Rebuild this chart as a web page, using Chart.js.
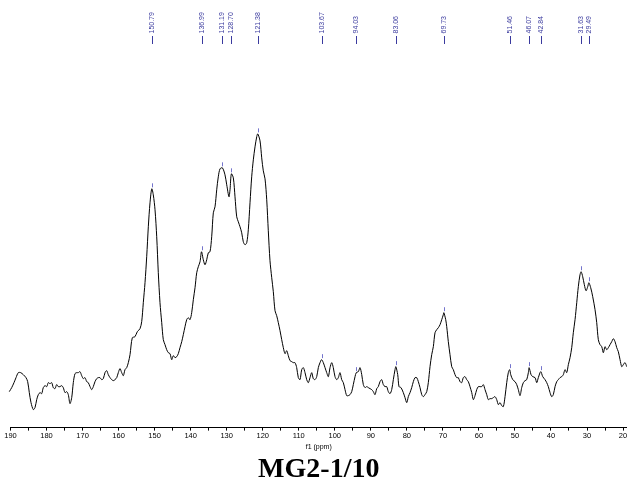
<!DOCTYPE html>
<html>
<head>
<meta charset="utf-8">
<style>
  html, body { margin: 0; padding: 0; background: #ffffff; overflow: hidden; }
  #wrap { position: relative; width: 627px; height: 488px; }
</style>
<script src="https://cdn.jsdelivr.net/npm/chart.js@4.4.0/dist/chart.umd.min.js"></script>
</head>
<body>
<div id="wrap"><canvas id="spectrum" width="627" height="488"></canvas></div>
<script>
// 13C spectrum of MG2-1/10: chemical shift (ppm) and intensity (arbitrary units)
const shiftPpm = [
  190.33,189.67,189.03,188.47,187.83,187.17,186.45,185.70,185.23,184.78,184.31,183.67,183.20,182.73,182.28,181.81,181.34,180.90,180.42,179.95,
  179.51,179.04,178.57,178.12,177.65,177.18,176.73,176.26,175.79,175.35,174.87,174.40,173.96,173.49,173.01,172.57,172.10,171.63,171.18,170.71,
  170.24,169.79,169.32,168.85,168.41,167.93,167.46,167.02,166.55,166.08,165.63,165.16,164.69,164.24,163.77,163.30,162.86,162.38,161.91,161.47,
  161.00,160.52,160.08,159.61,159.14,158.69,158.22,157.75,157.30,156.83,156.19,155.45,154.81,154.06,153.59,153.14,152.67,152.20,151.75,151.28,
  150.79,150.37,149.89,149.42,148.98,148.51,148.03,147.59,147.12,146.65,146.20,145.73,145.26,144.82,144.34,143.87,143.43,142.96,142.48,142.04,
  141.57,141.10,140.65,140.18,139.71,139.26,138.79,138.32,137.88,137.40,136.99,136.49,136.02,135.54,135.10,134.63,134.16,133.71,133.24,132.77,
  132.33,131.85,131.19,130.47,129.99,129.36,129.08,128.70,128.16,127.69,127.22,126.77,126.30,125.83,125.39,124.91,124.44,124.00,123.53,123.06,
  122.61,122.14,121.67,121.38,120.75,120.28,119.84,119.36,118.89,118.45,117.98,117.50,117.06,116.59,116.12,115.67,115.20,114.73,114.28,113.81,
  113.34,112.90,112.42,111.95,111.51,111.04,110.57,110.12,109.65,109.18,108.73,108.26,107.79,107.35,106.87,106.40,105.96,105.49,105.01,104.57,
  104.10,103.67,103.18,102.71,102.24,101.79,101.32,100.85,100.41,99.94,99.46,99.02,98.55,98.08,97.63,97.16,96.69,96.24,95.77,95.30,
  94.86,94.38,94.03,93.47,93.00,92.52,92.08,91.61,91.14,90.69,90.22,89.75,89.31,88.83,88.36,87.92,87.45,86.97,86.53,86.06,
  85.59,85.14,84.67,84.20,83.75,83.28,83.06,82.53,82.17,81.62,80.98,80.51,80.03,79.59,79.12,78.65,78.20,77.73,77.26,76.81,
  76.34,75.87,75.43,74.96,74.48,74.04,73.57,73.10,72.65,72.18,71.71,71.26,70.79,70.32,69.88,69.73,69.21,68.93,68.49,68.02,
  67.55,67.10,66.63,66.16,65.71,65.24,64.77,64.33,63.85,63.38,62.94,62.47,61.99,61.55,61.08,60.61,60.16,59.69,59.22,58.77,
  58.30,57.83,57.39,56.91,56.44,56.00,55.53,55.06,54.61,54.14,53.67,53.22,52.75,52.28,51.84,51.46,51.17,50.61,49.98,49.50,
  49.06,48.59,48.12,47.67,47.20,46.73,46.28,46.07,45.53,45.06,44.42,43.95,43.51,42.84,42.29,41.65,41.18,40.73,40.26,39.79,
  39.35,38.87,38.40,37.96,37.49,37.01,36.57,36.10,35.63,35.18,34.71,34.24,33.80,33.32,32.85,32.41,31.94,31.63,31.19,30.74,
  30.27,29.80,29.49,28.97,28.41,27.77,27.30,26.86,26.38,25.91,25.47,25.00,24.52,24.08,23.61,23.14,22.69,22.22,21.75,21.31,
  20.83,20.36,19.92,19.45,18.97
];
const intensity = [
  36,40,45,50,55,55,53,50,46,35,25,18,20,28,33,35,34,40,42,41,
  45,44,45,40,39,43,41,41,42,40,35,36,33,24,30,45,54,55,55,56,
  52,49,50,46,45,41,38,41,46,49,50,50,48,49,55,57,53,50,48,47,
  48,50,55,59,55,52,58,60,65,73,90,91,96,99,106,125,145,171,201,225,
  239,233,218,191,155,125,105,88,83,78,75,74,68,72,70,71,74,80,86,93,
  101,108,110,108,115,128,140,155,161,166,176,168,163,168,175,176,191,215,221,238,
  251,259,260,253,243,231,238,254,250,231,211,206,201,195,186,183,185,198,225,251,
  268,281,291,294,287,270,257,249,228,197,167,150,136,117,112,105,97,88,80,74,
  77,72,67,66,65,65,60,50,48,58,60,55,48,45,50,55,49,48,51,60,
  65,68,65,60,55,51,60,65,60,51,48,50,55,48,45,38,32,32,33,36,
  43,51,55,56,60,53,43,40,41,40,39,38,36,33,39,41,46,48,43,41,
  41,36,34,38,48,58,61,53,41,40,35,30,25,31,35,40,46,50,50,46,
  40,33,31,33,36,45,61,73,81,95,98,100,103,108,113,115,108,101,86,73,
  61,58,53,50,50,46,45,50,51,48,46,41,35,28,32,38,41,41,41,43,
  38,33,28,29,29,30,31,28,23,25,22,21,31,45,55,58,53,48,46,43,
  38,32,40,45,47,48,55,60,53,51,50,45,50,56,51,48,45,41,35,31,
  33,41,46,48,50,51,53,58,55,63,70,80,95,108,125,141,153,156,151,143,
  137,141,145,140,131,118,105,88,83,81,75,81,78,80,83,86,89,86,80,76,
  68,61,63,65,61
];

// Picked peaks
const peakPpm = [150.79, 136.99, 131.19, 128.70, 121.38, 103.67, 94.03, 83.06, 69.73, 51.46, 46.07, 42.84, 31.63, 29.49];
const peakLabels = ['150.79', '136.99', '131.19', '128.70', '121.38', '103.67', '94.03', '83.06', '69.73', '51.46', '46.07', '42.84', '31.63', '29.49'];

// Axis ticks (major every 10 ppm, minor every 5 ppm)
const axisTicks = [190,185,180,175,170,165,160,155,150,145,140,135,130,125,120,115,110,105,100,95,90,85,80,75,70,65,60,55,50,45,40,35,30,25,20];
const axisTitle = 'f1 (ppm)';
const chartTitle = 'MG2-1/10';

const sansFamily = '"Liberation Sans", Arial, sans-serif';
const serifFamily = '"Liberation Serif", "Times New Roman", serif';
const peakColor = '#3a3a9e';
const markColor = '#7474cc';

const points = shiftPpm.map((p, i) => ({ x: p, y: intensity[i] }));

// Peak labels along the top with their sticks, plus a short mark over each picked peak
const peakPicks = {
  id: 'peakPicks',
  afterDatasetsDraw(chart) {
    const { ctx, scales } = chart;
    const xs = scales.x, ys = scales.y;
    ctx.save();
    ctx.font = '7px ' + sansFamily;
    ctx.lineWidth = 1;
    peakPpm.forEach((p, i) => {
      const px = Math.round(xs.getPixelForValue(p)) + 0.5;
      ctx.fillStyle = peakColor;
      ctx.save();
      ctx.translate(px, 33.5);
      ctx.rotate(-Math.PI / 2);
      ctx.textAlign = 'left';
      ctx.textBaseline = 'middle';
      ctx.fillText(peakLabels[i], 0, 0);
      ctx.restore();
      ctx.strokeStyle = peakColor;
      ctx.beginPath();
      ctx.moveTo(px, 36);
      ctx.lineTo(px, 44);
      ctx.stroke();
      const idx = shiftPpm.indexOf(p);
      if (idx >= 0) {
        const py = ys.getPixelForValue(intensity[idx]);
        ctx.strokeStyle = markColor;
        ctx.beginPath();
        ctx.moveTo(px, py - 5.5);
        ctx.lineTo(px, py - 1.5);
        ctx.stroke();
      }
    });
    ctx.restore();
  }
};

new Chart(document.getElementById('spectrum'), {
  type: 'line',
  data: {
    datasets: [{
      data: points,
      borderColor: '#000000',
      borderWidth: 1,
      pointRadius: 0,
      tension: 0.3,
      fill: false,
      clip: 4
    }]
  },
  options: {
    responsive: false,
    animation: false,
    devicePixelRatio: 1,
    layout: { padding: { left: 10.5, right: 0, top: 0, bottom: 0 } },
    plugins: {
      legend: { display: false },
      tooltip: { enabled: false },
      title: {
        display: true,
        text: chartTitle,
        position: 'bottom',
        fullSize: false,
        color: '#000000',
        font: { family: serifFamily, size: 28, weight: 'bold', lineHeight: 1.2 },
        padding: { top: 2, bottom: 1.4 }
      }
    },
    scales: {
      x: {
        type: 'linear',
        reverse: true,
        min: 18.9,
        max: 190,
        afterBuildTicks: s => { s.ticks = axisTicks.map(v => ({ value: v })); },
        afterFit: s => { s.paddingLeft = 0; s.paddingRight = 0; },
        ticks: {
          autoSkip: false,
          maxRotation: 0,
          minRotation: 0,
          padding: 1,
          color: '#000000',
          font: { family: sansFamily, size: 7.5, lineHeight: 1.2 },
          callback: v => (v % 10 === 0 ? String(v) : '')
        },
        grid: {
          drawOnChartArea: false,
          drawTicks: true,
          tickLength: 3,
          tickColor: '#000000',
          color: '#000000'
        },
        border: { display: true, color: '#000000', width: 1 },
        title: {
          display: true,
          text: axisTitle,
          color: '#000000',
          font: { family: sansFamily, size: 7, lineHeight: 1.2 },
          padding: { top: 1, bottom: 0 }
        }
      },
      y: {
        type: 'linear',
        display: false,
        min: 0,
        max: 428
      }
    }
  },
  plugins: [peakPicks]
});
</script>
</body>
</html>
